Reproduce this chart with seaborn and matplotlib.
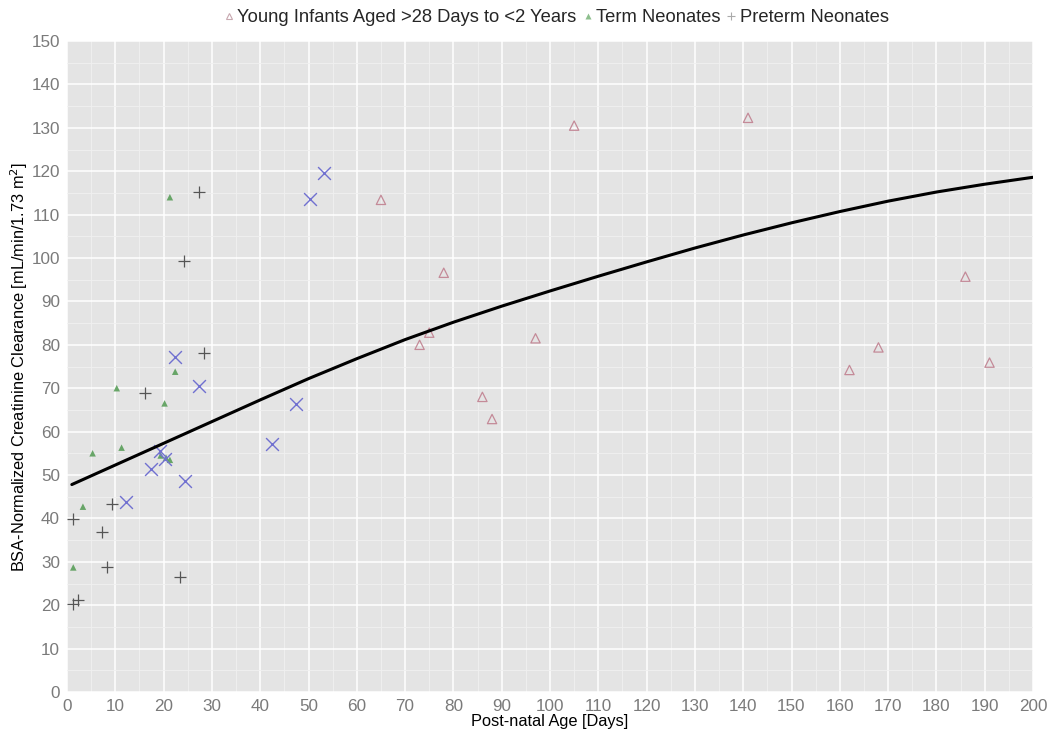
import matplotlib
matplotlib.use("Agg")
import matplotlib.pyplot as plt
from matplotlib.lines import Line2D
from matplotlib.ticker import MultipleLocator
import seaborn as sns
import pandas as pd

# ---- data ----
young_age = [65, 78, 75, 73, 97, 86, 88, 105, 141, 162, 168, 186, 191]
young_crcl = [113.4, 96.6, 82.8, 80.0, 81.5, 68.0, 62.9, 130.5, 132.3, 74.2, 79.4, 95.7, 75.9]

term_age = [21.3, 22.4, 10.3, 20.2, 11.3, 5.3, 3.3, 1.3, 19.4, 20.5, 21.3]
term_crcl = [114.0, 73.8, 70.0, 66.5, 56.3, 55.0, 42.7, 28.7, 54.5, 54.0, 53.5]

preterm_age = [27.3, 24.3, 28.3, 16.2, 9.3, 7.3, 8.3, 1.3, 23.4, 1.3, 2.3]
preterm_crcl = [115.1, 99.3, 78.2, 68.8, 43.3, 36.9, 28.7, 39.8, 26.5, 20.2, 21.2]

other_age = [22.4, 27.4, 53.3, 50.3, 47.4, 42.4, 24.5, 17.3, 12.3, 19.3, 20.2]
other_crcl = [77.3, 70.5, 119.5, 113.5, 66.3, 57.1, 48.7, 51.4, 43.8, 55.6, 53.8]

curve_age = [1, 10, 20, 30, 40, 50, 60, 70, 80, 90, 100, 110, 120, 130, 140, 150, 160, 170, 180, 190, 200]
curve_crcl = [47.8, 52.3, 57.3, 62.3, 67.3, 72.2, 76.8, 81.2, 85.2, 88.9, 92.4, 95.8, 99.1, 102.3, 105.3, 108.1, 110.7, 113.1, 115.2, 117.0, 118.6]

legend_labels = ["Young Infants Aged >28 Days to <2 Years", "Term Neonates", "Preterm Neonates"]

# ---- styling ----
sns.set_theme(style="darkgrid")
plt.rcParams["font.family"] = ["Liberation Sans", "DejaVu Sans"]

fig = plt.figure(figsize=(10.48, 7.35), dpi=100)
ax = fig.add_axes([67 / 1048, 1 - 692 / 735, (1033 - 67) / 1048, (692 - 41) / 735])
ax.set_facecolor("#E4E4E4")

young_df = pd.DataFrame({"age": young_age, "crcl": young_crcl})
term_df = pd.DataFrame({"age": term_age, "crcl": term_crcl})
pre_df = pd.DataFrame({"age": preterm_age, "crcl": preterm_crcl})
oth_df = pd.DataFrame({"age": other_age, "crcl": other_crcl})
curve_df = pd.DataFrame({"age": curve_age, "crcl": curve_crcl})

pink = "#C48A98"
green = "#5A9E5A"
gray = "#555555"
blue = "#7070D0"

sns.scatterplot(data=young_df, x="age", y="crcl", ax=ax, marker="^", s=45,
                facecolors="none", edgecolor=pink, linewidth=0.9, zorder=3)
sns.scatterplot(data=term_df, x="age", y="crcl", ax=ax, marker="^", s=22,
                color=green, edgecolor="none", alpha=0.9, zorder=3)
sns.scatterplot(data=pre_df, x="age", y="crcl", ax=ax, marker="+", s=70,
                color=gray, linewidth=0.9, zorder=3)
sns.scatterplot(data=oth_df, x="age", y="crcl", ax=ax, marker="x", s=85,
                color=blue, linewidth=1.0, zorder=3)
sns.lineplot(data=curve_df, x="age", y="crcl", ax=ax, color="black", linewidth=2.2, zorder=4)

ax.set_xlim(0, 200)
ax.set_ylim(0, 150)
ax.xaxis.set_major_locator(MultipleLocator(10))
ax.yaxis.set_major_locator(MultipleLocator(10))
ax.xaxis.set_minor_locator(MultipleLocator(5))
ax.yaxis.set_minor_locator(MultipleLocator(5))
ax.grid(which="major", color="white", linewidth=1.1)
ax.grid(which="minor", color="#F0F0F0", linewidth=0.6)
for s in ax.spines.values():
    s.set_visible(False)

ax.tick_params(axis="both", which="major", labelsize=12.3, labelcolor="#7A7A7A",
               color="#8A8A8A", length=3, width=0.8, pad=2)
ax.tick_params(axis="both", which="minor", length=0)

ax.set_xlabel("Post-natal Age [Days]", fontsize=11.8, color="black", labelpad=0)
ax.set_ylabel("BSA-Normalized Creatinine Clearance [mL/min/1.73 m$^2$]", fontsize=11.8,
              color="black", labelpad=1)

handles = [
    Line2D([], [], linestyle="none", marker="^", markersize=5, markerfacecolor="none",
           markeredgecolor="#C8A8B0", markeredgewidth=0.8),
    Line2D([], [], linestyle="none", marker="^", markersize=4, markerfacecolor="#8DBF8D",
           markeredgecolor="none"),
    Line2D([], [], linestyle="none", marker="+", markersize=6, markeredgecolor="#AAAAAA",
           markeredgewidth=0.8),
]
fig.legend(handles, legend_labels, loc="center", bbox_to_anchor=(556 / 1048, 1 - 18 / 735),
           ncol=3, frameon=False, fontsize=13.2, handlelength=0.6, handletextpad=0.15,
           columnspacing=0.3, borderaxespad=0)

fig.savefig("out.png", dpi=100)
